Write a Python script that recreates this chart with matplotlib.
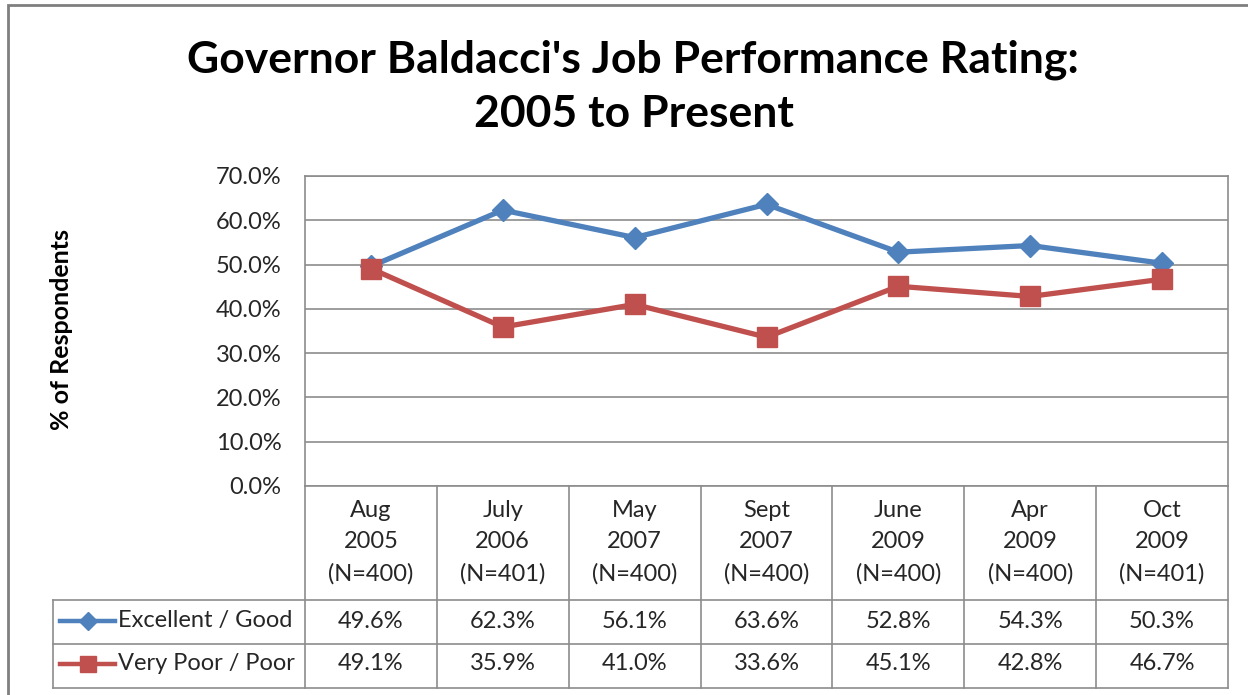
import numpy as np
import matplotlib
matplotlib.use('Agg')
from matplotlib import pyplot as plt
from matplotlib import transforms
from matplotlib.lines import Line2D
from matplotlib.patches import Rectangle
from matplotlib.ticker import FuncFormatter


## data
months = ['Aug', 'July', 'May', 'Sept', 'June', 'Apr', 'Oct']
years = ['2005', '2006', '2007', '2007', '2009', '2009', '2009']
sampleSizes = [400, 401, 400, 400, 400, 400, 401]
excellentGood = [49.6, 62.3, 56.1, 63.6, 52.8, 54.3, 50.3]
veryPoorPoor = [49.1, 35.9, 41.0, 33.6, 45.1, 42.8, 46.7]

seriesNames = ['Excellent / Good', 'Very Poor / Poor']
seriesColors = ['#4F81BD', '#C0504D']
seriesMarkers = ['D', 's']
seriesSizes = [11, 14]

## setup
W, H = 1248, 695
gridColor = '#8C8C8C'
textColor = '#262626'
plt.rcParams['font.family'] = ['Lato', 'DejaVu Sans']

def fy(py):
    return 1 - py/H

def fx(px):
    return px/W

fig = plt.figure(figsize=(W/100, H/100), dpi=100)
ax = fig.add_axes([fx(305), fy(486), fx(1228)-fx(305), fy(176)-fy(486)])

x = np.arange(len(months))
for vals, col, mk, ms in zip([excellentGood, veryPoorPoor], seriesColors, seriesMarkers, seriesSizes):
    ax.plot(x, vals, color=col, linewidth=3.8, marker=mk, markersize=ms,
            markerfacecolor=col, markeredgecolor=col, zorder=3)

ax.set_xlim(-0.5, len(months)-0.5)
ax.set_ylim(0, 70)
ax.set_yticks(np.arange(0, 71, 10))
ax.yaxis.set_major_formatter(FuncFormatter(lambda v, p: '%.1f%%' % v))
ax.set_xticks([])
ax.tick_params(axis='y', length=0, pad=17, labelsize=17, labelcolor=textColor)
ax.grid(axis='y', color=gridColor, linewidth=1.2)
ax.set_axisbelow(True)
for sp in ax.spines.values():
    sp.set_color(gridColor)
    sp.set_linewidth(1.2)

## title and axis label
fig.text(fx(633), fy(60), "Governor Baldacci's Job Performance Rating:", ha='center', va='center',
         fontsize=32, fontweight='bold', color='black')
fig.text(fx(634), fy(114), "2005 to Present", ha='center', va='center',
         fontsize=32, fontweight='bold', color='black')
fig.text(fx(62), fy(330), '% of Respondents', rotation=90, ha='center', va='center',
         fontsize=18, fontweight='bold', color='black')

## data table
blend = transforms.blended_transform_factory(ax.transData, fig.transFigure)
for i in range(len(months)+1):
    fig.add_artist(Line2D([i-0.5, i-0.5], [fy(486), fy(688)], transform=blend,
                          color=gridColor, linewidth=1.2))
for py in [600, 644, 688]:
    fig.add_artist(Line2D([fx(53), fx(1228)], [fy(py), fy(py)], color=gridColor, linewidth=1.2))
fig.add_artist(Line2D([fx(53), fx(53)], [fy(600), fy(688)], color=gridColor, linewidth=1.2))

for i in range(len(months)):
    header = '%s\n%s\n(N=%d)' % (months[i], years[i], sampleSizes[i])
    fig.text(i, fy(542), header, transform=blend, ha='center', va='center',
             fontsize=17, color=textColor, linespacing=1.6)
    fig.text(i, fy(621), '%.1f%%' % excellentGood[i], transform=blend, ha='center', va='center',
             fontsize=17, color=textColor)
    fig.text(i, fy(664), '%.1f%%' % veryPoorPoor[i], transform=blend, ha='center', va='center',
             fontsize=17, color=textColor)

for j, (name, col, mk, ms) in enumerate(zip(seriesNames, seriesColors, seriesMarkers, seriesSizes)):
    rowY = fy(621 + 43*j)
    fig.add_artist(Line2D([fx(60), fx(115)], [rowY, rowY], color=col, linewidth=3.2))
    fig.add_artist(Line2D([fx(87.5)], [rowY], color=col, marker=mk, markersize=ms*0.85,
                          markerfacecolor=col, markeredgecolor=col))
    fig.text(fx(118), rowY, name, ha='left', va='center', fontsize=17, color=textColor)

## chart border
fig.add_artist(Rectangle((fx(8), -0.2), 1.2, fy(5)+0.2, fill=False,
                         edgecolor='#7F7F7F', linewidth=2))

fig.savefig('out.png', dpi=100)
